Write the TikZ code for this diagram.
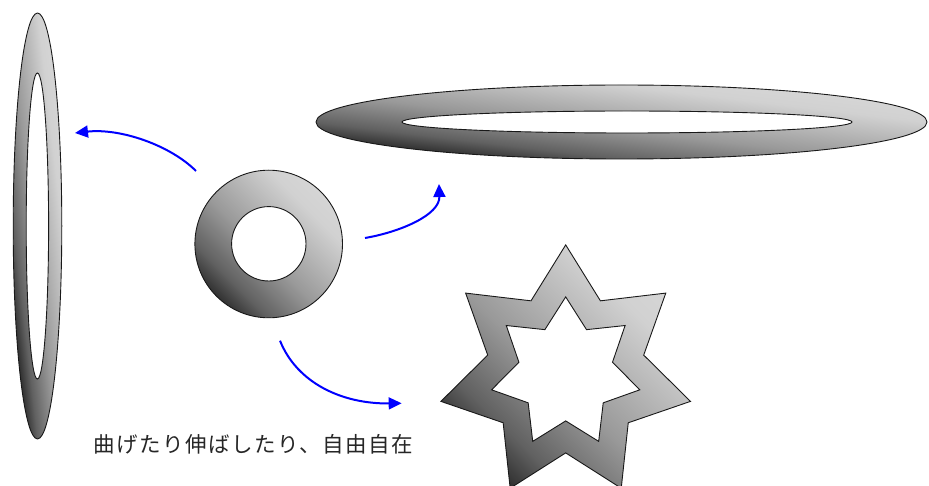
\documentclass[tikz,border=0pt]{standalone}
\usepackage{fontspec}
\newfontfamily\cjk[LetterSpace=6.8]{Noto Sans CJK JP}
\usetikzlibrary{arrows.meta}
\definecolor{s0}{gray}{0.12}
\definecolor{s1}{gray}{0.2}
\definecolor{s2}{gray}{0.38}
\definecolor{s3}{gray}{0.6}
\definecolor{s4}{gray}{0.82}
\definecolor{s5}{gray}{0.86}
\pgfdeclarehorizontalshading{ringgrad}{100bp}{color(0bp)=(s0); color(25bp)=(s0); color(32.5bp)=(s1); color(37.5bp)=(s2); color(47.5bp)=(s3); color(62.5bp)=(s4); color(75bp)=(s5); color(100bp)=(s5)}
\tikzset{
  outline/.style={draw=black!90, line width=0.9pt},
  flow/.style={draw=blue, line width=2pt, -{Triangle[length=13pt,width=12pt]}},
  caption/.style={font=\cjk\fontsize{21.5}{24}\selectfont, text=black!85, inner sep=0pt},
  boxshade/.style n args={4}{shading=ringgrad,
    transform canvas={shift={(#1,#2)}, xscale=#3/50, yscale=#4/50, rotate=45}},
}
\newcommand{\gradsq}{(-70.8,-70.8) rectangle (70.8,70.8)}
\begin{document}
\begin{tikzpicture}[x=1pt,y=-1pt]
\useasboundingbox (0,0) rectangle (929,486);
\clip (0,0) rectangle (929,486);
% vertical ring
\begin{scope}[even odd rule]
\clip (37.5,226) ellipse [x radius=24.3, y radius=213] (37.4,226) ellipse [x radius=11.2, y radius=153];
\shade[boxshade={37.5}{226}{24.3}{213}] \gradsq;
\end{scope}
\draw[outline] (37.5,226) ellipse [x radius=24.3, y radius=213];
\draw[outline] (37.4,226) ellipse [x radius=11.2, y radius=153];
% horizontal ring
\begin{scope}[even odd rule]
\clip (621.5,122) ellipse [x radius=305.5, y radius=37] (627,122) ellipse [x radius=225, y radius=11];
\shade[boxshade={621.5}{122}{305.5}{37}] \gradsq;
\end{scope}
\draw[outline] (621.5,122) ellipse [x radius=305.5, y radius=37];
\draw[outline] (627,122) ellipse [x radius=225, y radius=11];
% round ring
\begin{scope}[even odd rule]
\clip (268.7,244) circle [radius=73.8] (268.8,243.8) circle [radius=37.2];
\shade[boxshade={268.7}{244}{73.8}{73.8}] \gradsq;
\end{scope}
\draw[outline] (268.7,244) circle [radius=73.8];
\draw[outline] (268.8,243.8) circle [radius=37.2];
% star ring
\begin{scope}[even odd rule]
\clip
  plot[samples at={0,...,13}] ({565.7+(mod(\x,2)==0 ? 128 : 80)*cos(90-\x*360/14)}, {372.9-(mod(\x,2)==0 ? 128 : 80)*sin(90-\x*360/14)}) -- cycle
  plot[samples at={0,...,13}] ({565.7+(mod(\x,2)==0 ? 76 : 48)*cos(90-\x*360/14)}, {372.9-(mod(\x,2)==0 ? 76 : 48)*sin(90-\x*360/14)}) -- cycle;
\shade[boxshade={566}{366.5}{124.4}{121.6}] \gradsq;
\end{scope}
\draw[outline, line join=miter]
  plot[samples at={0,...,13}] ({565.7+(mod(\x,2)==0 ? 128 : 80)*cos(90-\x*360/14)}, {372.9-(mod(\x,2)==0 ? 128 : 80)*sin(90-\x*360/14)}) -- cycle;
\draw[outline, line join=miter]
  plot[samples at={0,...,13}] ({565.7+(mod(\x,2)==0 ? 76 : 48)*cos(90-\x*360/14)}, {372.9-(mod(\x,2)==0 ? 76 : 48)*sin(90-\x*360/14)}) -- cycle;
% arrow end points
\coordinate (a1s) at (196,171);
\coordinate (a1e) at (75,133);
\coordinate (a2s) at (365,238);
\coordinate (a2e) at (439,184);
\coordinate (a3s) at (280,340.7);
\coordinate (a3e) at (401.7,403.3);
\draw[flow] (a1s) .. controls (170,145) and (120,128) .. (a1e);
\draw[flow] (a2s) .. controls (400,232) and (440,215) .. (a2e);
\draw[flow] (a3s) .. controls (297,383) and (342,404) .. (a3e);
% caption
\node[caption] (cap) at (253,444) {曲げたり伸ばしたり、自由自在};
\end{tikzpicture}
\end{document}
